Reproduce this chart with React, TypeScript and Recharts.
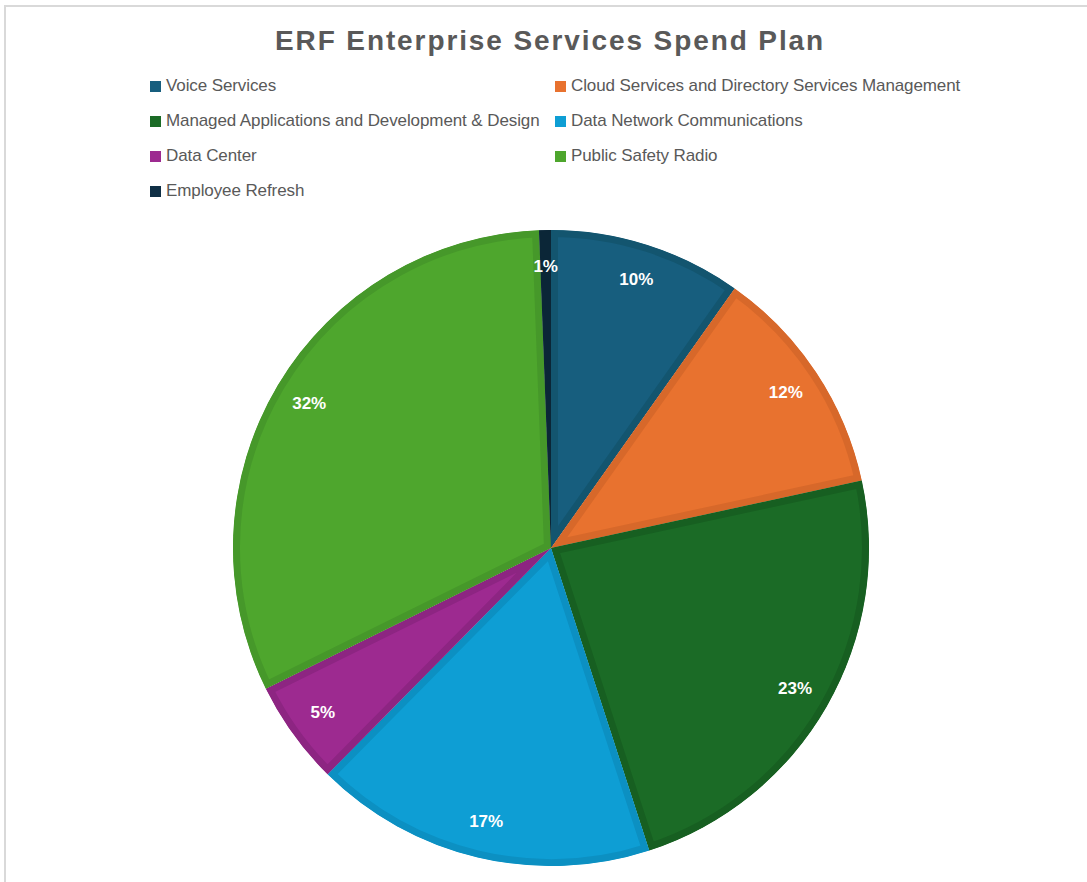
import { PieChart, Pie, Cell, Sector } from "recharts";

const categories = [
  "Voice Services",
  "Cloud Services and Directory Services Management",
  "Managed Applications and Development & Design",
  "Data Network Communications",
  "Data Center",
  "Public Safety Radio",
  "Employee Refresh",
];

// share of spend (percent)
const spend = [9.8, 11.8, 23.4, 17.4, 5.3, 31.7, 0.6];

const fills = ["#175e7e", "#e8722f", "#1b6b26", "#0e9ed4", "#9d2a90", "#4ea62d", "#0f2f45"];
const edges = ["#13556f", "#d7682a", "#175f21", "#0c90c2", "#8d2582", "#46982a", "#0b2637"];

const data = categories.map((name, i) => ({ name, value: spend[i] }));

const FONT = '"Liberation Sans", Arial, sans-serif';
const RAD = Math.PI / 180;

// sector with an inner darker rim (stroke clipped to the slice itself)
const renderSlice = (props: any) => {
  const { cx, cy, innerRadius, outerRadius, startAngle, endAngle, index } = props;
  const id = `slice-clip-${index}`;
  const geo = { cx, cy, innerRadius, outerRadius, startAngle, endAngle };
  return (
    <g>
      <defs>
        <clipPath id={id}>
          <Sector {...geo} />
        </clipPath>
      </defs>
      <Sector
        {...geo}
        fill={fills[index]}
        stroke={edges[index]}
        strokeWidth={14}
        clipPath={`url(#${id})`}
      />
    </g>
  );
};

const renderLabel = (props: any) => {
  const { cx, cy, midAngle, outerRadius, percent } = props;
  const r = outerRadius * 0.885;
  const x = cx + r * Math.cos(-midAngle * RAD);
  const y = cy + r * Math.sin(-midAngle * RAD);
  return (
    <text
      x={x}
      y={y}
      fill="#ffffff"
      textAnchor="middle"
      dominantBaseline="central"
      fontFamily={FONT}
      fontWeight="bold"
      fontSize={17}
    >
      {`${Math.round(percent * 100)}%`}
    </text>
  );
};

export default function App() {
  return (
    <div
      style={{
        position: "absolute",
        left: 0,
        top: 0,
        width: 1087,
        height: 882,
        background: "#ffffff",
        overflow: "hidden",
        fontFamily: FONT,
      }}
    >
      <div
        style={{
          position: "absolute",
          left: 4,
          top: 5,
          width: 1200,
          height: 1000,
          borderLeft: "2px solid #d9d9d9",
          borderTop: "2px solid #d9d9d9",
        }}
      />
      <div
        style={{
          position: "absolute",
          left: 0,
          width: 1100,
          top: 25,
          textAlign: "center",
          fontSize: 28,
          fontWeight: "bold",
          letterSpacing: 1.9,
          color: "#595959",
        }}
      >
        ERF Enterprise Services Spend Plan
      </div>

      {categories.map((name, i) => (
        <div
          key={name}
          style={{
            position: "absolute",
            left: i % 2 === 0 ? 150 : 555,
            top: 76 + Math.floor(i / 2) * 35,
            display: "flex",
            alignItems: "center",
            fontSize: 17,
            color: "#595959",
            letterSpacing: -0.1,
            whiteSpace: "nowrap",
          }}
        >
          <span
            style={{
              display: "inline-block",
              width: 11,
              height: 11,
              background: fills[i],
              marginRight: 5,
            }}
          />
          {name}
        </div>
      ))}

      <div style={{ position: "absolute", left: 0, top: 0 }}>
        <PieChart width={1087} height={882} margin={{ top: 0, right: 0, bottom: 0, left: 0 }}>
          <Pie
            data={data}
            dataKey="value"
            nameKey="name"
            cx={551}
            cy={548}
            outerRadius={318}
            startAngle={90}
            endAngle={-270}
            stroke="none"
            labelLine={false}
            label={renderLabel}
            shape={renderSlice}
            activeShape={renderSlice}
            inactiveShape={renderSlice}
            isAnimationActive={false}
          >
            {data.map((d, i) => (
              <Cell key={d.name} fill={fills[i]} />
            ))}
          </Pie>
        </PieChart>
      </div>
    </div>
  );
}
